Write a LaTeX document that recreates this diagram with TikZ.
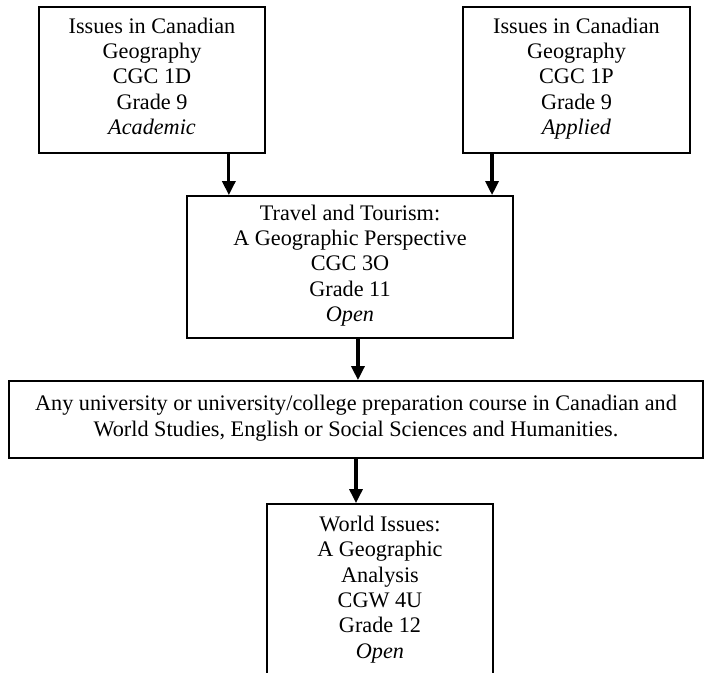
\documentclass[tikz,border=0pt]{standalone}
\usepackage{fontspec}
\setmainfont{Liberation Serif}
\usetikzlibrary{arrows.meta}

\begin{document}
\begin{tikzpicture}[x=0.54pt,y=-0.54pt,
  course/.style={draw,line width=1pt,align=center,inner sep=0pt,
    font=\fontsize{12}{13.7}\selectfont,
    execute at begin node=\rule{0pt}{14pt},execute at end node=\strut},
  arr/.style={line width=1.7pt,-{Triangle[width=7pt,length=7.5pt]}}]
\useasboundingbox (0,0) rectangle (704,673);
\clip (0,0) rectangle (704,673);
\node[course,minimum width=122pt,minimum height=78.8pt] (acad) at (152,80)
  {Issues in Canadian\\Geography\\CGC 1D\\Grade 9\\\textit{Academic}};
\node[course,minimum width=122.6pt,minimum height=78.8pt] (appl) at (576.5,80)
  {Issues in Canadian\\Geography\\CGC 1P\\Grade 9\\\textit{Applied}};
\node[course,minimum width=176pt,minimum height=76.7pt] (travel) at (350,267)
  {Travel and Tourism:\\A Geographic Perspective\\CGC 3O\\Grade 11\\\textit{Open}};
\node[course,minimum width=374.8pt,minimum height=41.6pt] (any) at (356,419.5)
  {Any university or university/college preparation course in Canadian and\\
   World Studies, English or Social Sciences and Humanities.};
\node[course,minimum width=122pt,minimum height=94pt] (world) at (380,591)
  {World Issues:\\A Geographic\\Analysis\\CGW 4U\\Grade 12\\\textit{Open}};
\draw[arr] ([xshift=-20pt]acad.south east) -- ([xshift=-20pt]acad.south east |- travel.north);
\draw[arr] ([xshift=16.2pt]appl.south west) -- ([xshift=16.2pt]appl.south west |- travel.north);
\draw[arr] ([xshift=4.3pt]travel.south) -- ([xshift=4.3pt]travel.south |- any.north);
\draw[arr] (any.south) -- (any.south |- world.north);
\end{tikzpicture}
\end{document}
